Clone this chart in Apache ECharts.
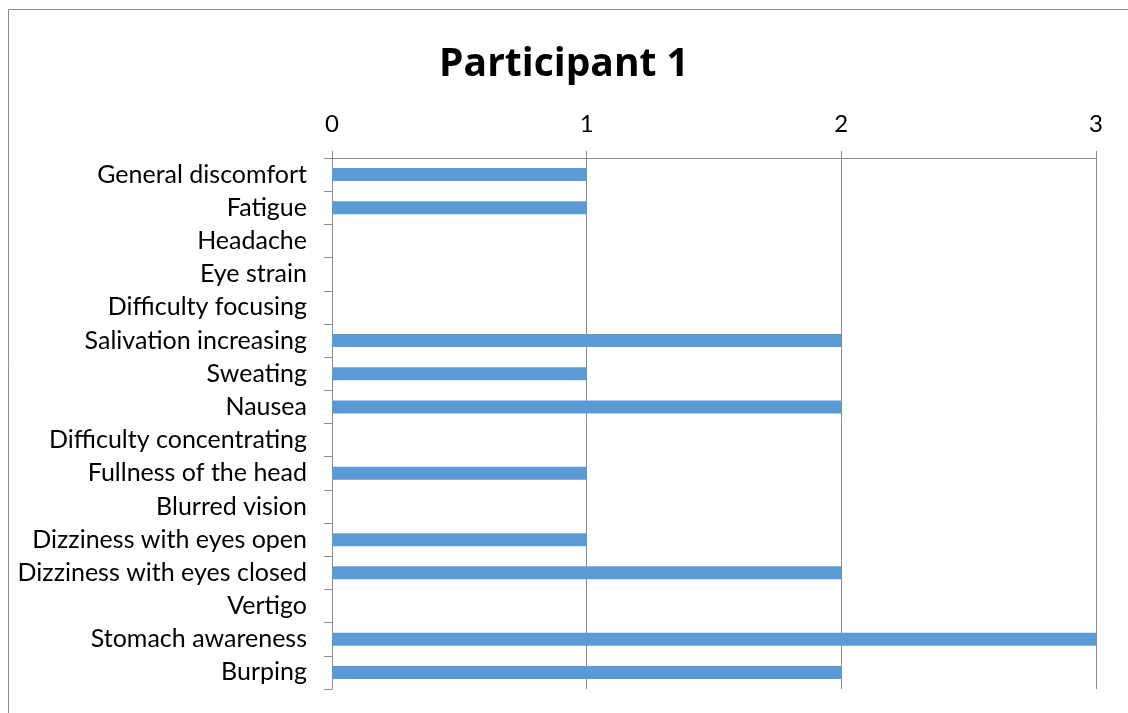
<!DOCTYPE html>
<html>
<head>
<meta charset="utf-8">
<script src="https://cdn.jsdelivr.net/npm/echarts@6/dist/echarts.min.js"></script>
<style>
html, body { margin: 0; padding: 0; background: #fff; }
#main { width: 1128px; height: 713px; }
</style>
</head>
<body>
<div id="main"></div>
<script>
var symptoms = ['General discomfort', 'Fatigue', 'Headache', 'Eye strain', 'Difficulty focusing',
	'Salivation increasing', 'Sweating', 'Nausea', 'Difficulty concentrating', 'Fullness of the head',
	'Blurred vision', 'Dizziness with eyes open', 'Dizziness with eyes closed', 'Vertigo',
	'Stomach awareness', 'Burping'];
var scores = [1, 1, 0, 0, 0, 2, 1, 2, 0, 1, 0, 1, 2, 0, 3, 2];
var xTicks = [0, 1, 2, 3];

var chart = echarts.init(document.getElementById('main'));
var font = 'Lato, "Open Sans", sans-serif';

chart.setOption({
	backgroundColor: '#fff',
	animation: false,
	title: {
		text: 'Participant 1',
		left: 'center',
		top: 40,
		textStyle: { fontFamily: '"Open Sans", sans-serif', fontSize: 39, fontWeight: 'bold', color: '#000' }
	},
	graphic: [{
		type: 'rect',
		shape: { x: 8.5, y: 9.5, width: 1200, height: 800 },
		style: { fill: 'none', stroke: '#8c8c8c', lineWidth: 1 }
	}],
	grid: { left: 332, right: 32, top: 158, bottom: 24 },
	xAxis: {
		type: 'value',
		position: 'top',
		min: xTicks[0],
		max: xTicks[xTicks.length - 1],
		interval: 1,
		axisLine: { show: true, lineStyle: { color: '#8c8c8c' } },
		axisTick: { show: true, length: 7, lineStyle: { color: '#8c8c8c' } },
		axisLabel: { margin: 22, fontFamily: font, fontSize: 24, color: '#000' },
		splitLine: { show: true, lineStyle: { color: '#8c8c8c' } }
	},
	yAxis: {
		type: 'category',
		data: symptoms,
		inverse: true,
		axisLine: { show: true, lineStyle: { color: '#8c8c8c' } },
		axisTick: { show: true, length: 8, lineStyle: { color: '#8c8c8c' } },
		axisLabel: { margin: 25, fontFamily: font, fontSize: 25, color: '#000' }
	},
	series: [{
		type: 'bar',
		data: scores,
		barWidth: 13,
		itemStyle: { color: '#5B9BD5' }
	}]
});
</script>
</body>
</html>
